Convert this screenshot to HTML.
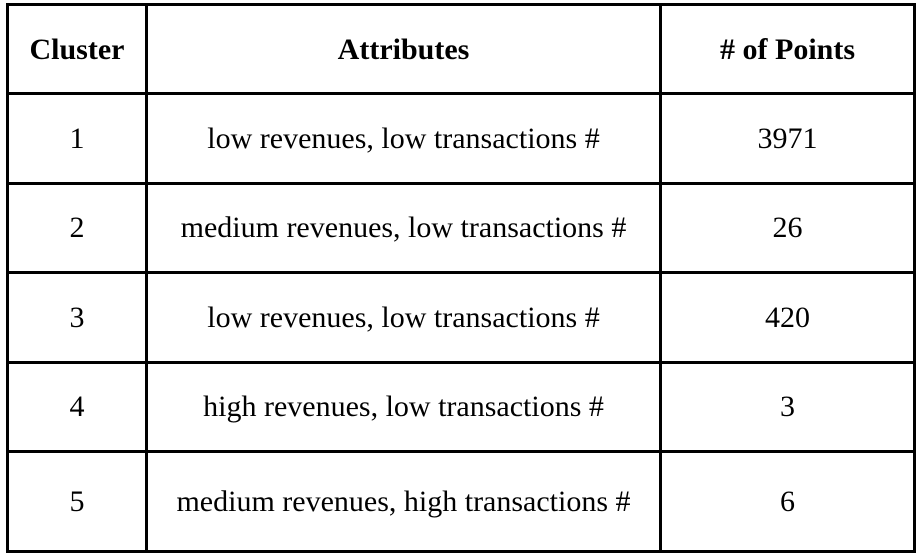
<!DOCTYPE html>
<html><head><style>
body{margin:0;width:922px;height:559px;background:#fff;position:relative;overflow:hidden;font-family:"Liberation Serif",serif;font-size:30px;color:#000}
.h{position:absolute;background:#000;height:3px}
.v{position:absolute;background:#000;width:3px;top:3px;height:550px}
.t{position:absolute;text-align:center;line-height:32px;transform:translateY(-50%);white-space:nowrap}
b{font-weight:bold}
</style></head><body>
<div class="h" style="left:6px;width:909px;top:3px"></div>
<div class="h" style="left:6px;width:909px;top:92px"></div>
<div class="h" style="left:6px;width:909px;top:182px"></div>
<div class="h" style="left:6px;width:909px;top:271px"></div>
<div class="h" style="left:6px;width:909px;top:361px"></div>
<div class="h" style="left:6px;width:909px;top:450px"></div>
<div class="h" style="left:6px;width:909px;top:550px"></div>
<div class="v" style="left:6px"></div>
<div class="v" style="left:145px"></div>
<div class="v" style="left:659px"></div>
<div class="v" style="left:913px"></div>

<div class="t" style="left:9px;width:136px;top:50px"><b>Cluster</b></div>
<div class="t" style="left:148px;width:511px;top:50px"><b>Attributes</b></div>
<div class="t" style="left:662px;width:251px;top:50px"><b># of Points</b></div>

<div class="t" style="left:9px;width:136px;top:139px">1</div>
<div class="t" style="left:148px;width:511px;top:139px">low revenues, low transactions #</div>
<div class="t" style="left:662px;width:251px;top:139px">3971</div>

<div class="t" style="left:9px;width:136px;top:228px">2</div>
<div class="t" style="left:148px;width:511px;top:228px">medium revenues, low transactions #</div>
<div class="t" style="left:662px;width:251px;top:228px">26</div>

<div class="t" style="left:9px;width:136px;top:318px">3</div>
<div class="t" style="left:148px;width:511px;top:318px">low revenues, low transactions #</div>
<div class="t" style="left:662px;width:251px;top:318px">420</div>

<div class="t" style="left:9px;width:136px;top:407px">4</div>
<div class="t" style="left:148px;width:511px;top:407px">high revenues, low transactions #</div>
<div class="t" style="left:662px;width:251px;top:407px">3</div>

<div class="t" style="left:9px;width:136px;top:502px">5</div>
<div class="t" style="left:148px;width:511px;top:502px">medium revenues, high transactions #</div>
<div class="t" style="left:662px;width:251px;top:502px">6</div>
</body></html>
